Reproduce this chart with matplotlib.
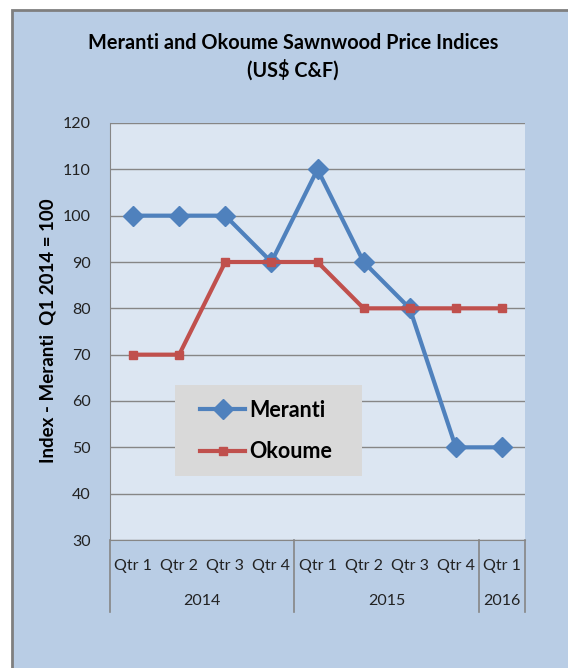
import matplotlib
matplotlib.use("Agg")
import matplotlib.pyplot as plt
from matplotlib.patches import Rectangle
from matplotlib.lines import Line2D
import matplotlib.transforms as mtransforms

quarters = ["Qtr 1", "Qtr 2", "Qtr 3", "Qtr 4", "Qtr 1", "Qtr 2", "Qtr 3", "Qtr 4", "Qtr 1"]
years = ["2014", "2015", "2016"]
year_spans = [(0, 3), (4, 7), (8, 8)]
meranti = [100, 100, 100, 90, 110, 90, 80, 50, 50]
okoume = [70, 70, 90, 90, 90, 80, 80, 80, 80]
yticks = [30, 40, 50, 60, 70, 80, 90, 100, 110, 120]

FONT = ["Lato", "DejaVu Sans"]
plt.rcParams['font.family'] = FONT

W, H = 568, 668
AX_L, AX_R, AX_T, AX_B = 110, 525, 123, 540
fig = plt.figure(figsize=(W / 100, H / 100), dpi=100, facecolor="white")

# chart area background with border
fig.patches.append(Rectangle((12 / W, -0.01), 1.0, (H - 10) / H + 0.01, transform=fig.transFigure,
                             facecolor="#B9CDE5", edgecolor="#7F7F7F", linewidth=2.0, zorder=-10))

ax = fig.add_axes([AX_L / W, (H - AX_B) / H, (AX_R - AX_L) / W, (AX_B - AX_T) / H])
ax.set_zorder(1)
ax.set_facecolor("#DCE6F2")
x = list(range(len(quarters)))
ax.plot(x, meranti, color="#4F81BD", lw=3, marker="D", ms=10, zorder=3, label="Meranti")
ax.plot(x, okoume, color="#C0504D", lw=3, marker="s", ms=6, zorder=3, label="Okoume")

ax.set_xlim(-0.5, len(quarters) - 0.5)
ax.set_ylim(yticks[0], yticks[-1])
ax.set_yticks(yticks)
ax.set_yticklabels([str(v) for v in yticks], fontsize=11.5, color="#222222")
ax.yaxis.grid(True, color="#868686", lw=1)
ax.set_axisbelow(True)
ax.tick_params(axis="y", length=0, pad=14)
ax.set_xticks(x)
ax.set_xticklabels(quarters, fontsize=11.5, color="#222222")
ax.tick_params(axis="x", length=0, pad=14)
for s in ["top", "right"]:
    ax.spines[s].set_visible(False)
for s in ["left", "bottom"]:
    ax.spines[s].set_color("#868686")

# multi-level category axis
trans = mtransforms.blended_transform_factory(ax.transData, ax.transAxes)
depth = (612 - AX_B) / (AX_B - AX_T)
bounds = [-0.5] + [e + 0.5 for (_, e) in year_spans]
for b in bounds:
    ax.add_line(Line2D([b, b], [0, -depth], transform=trans, color="#868686", lw=1.2, clip_on=False))
ydepth = (601 - AX_B) / (AX_B - AX_T)
for yr, (s, e) in zip(years, year_spans):
    ax.text((s + e) / 2, -ydepth, yr, transform=trans, ha="center", va="center", fontsize=11.5, color="#222222")

fig.text(48 / W, 1 - 331 / H, "Index - Meranti  Q1 2014 = 100", rotation=90, ha="center", va="center",
         fontsize=13.5, fontweight="bold")

fig.text(293 / W, 1 - 43 / H, "Meranti and Okoume Sawnwood Price Indices", ha="center", va="center",
         fontsize=14.3, fontweight="bold")
fig.text(293 / W, 1 - 70 / H, "(US$ C&F)", ha="center", va="center", fontsize=14.3, fontweight="bold")


def ax_x(px):
    return (px - AX_L) / (AX_R - AX_L)


def ax_y(py):
    return 1 - (py - AX_T) / (AX_B - AX_T)


# legend box
ax.add_patch(Rectangle((ax_x(175), ax_y(476)), ax_x(362) - ax_x(175), ax_y(385) - ax_y(476),
                       transform=ax.transAxes, facecolor="#D9D9D9", edgecolor="none", zorder=4))
leg = ax.legend(loc="upper left", bbox_to_anchor=(ax_x(200), ax_y(400)),
                frameon=False, prop={"family": FONT, "weight": "bold", "size": 15.5},
                handlelength=2.1, handletextpad=0.2, borderpad=0, labelspacing=0.95, borderaxespad=0)
leg.set_zorder(5)

fig.savefig("out.png", dpi=100, facecolor=fig.get_facecolor())
